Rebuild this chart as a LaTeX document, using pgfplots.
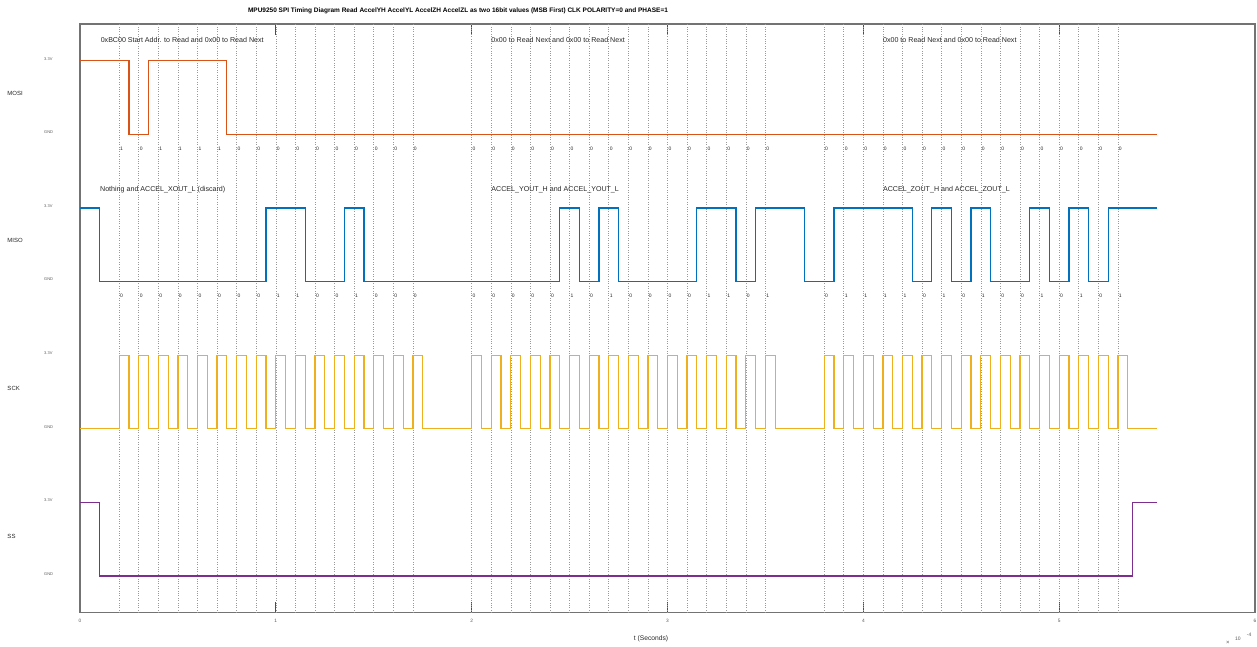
\documentclass[border=0pt]{standalone}
\usepackage{pgfplots}
\usepackage{pgfplotstable}
\pgfplotsset{compat=1.18}
\usepackage{fontspec}
\setmainfont{Liberation Sans}
\definecolor{cMOSI}{RGB}{217,83,25}
\definecolor{cMISO}{RGB}{0,114,189}
\definecolor{cSCK}{RGB}{237,177,32}
\definecolor{cSS}{RGB}{126,47,142}
\definecolor{txt}{RGB}{38,38,38}
\pgfplotstableread{
x y b
0.2 5.81 1
0.3 5.81 0
0.4 5.81 1
0.5 5.81 1
0.6 5.81 1
0.7 5.81 1
0.8 5.81 0
0.9 5.81 0
1.0 5.81 0
1.1 5.81 0
1.2 5.81 0
1.3 5.81 0
1.4 5.81 0
1.5 5.81 0
1.6 5.81 0
1.7 5.81 0
2.0 5.81 0
2.1 5.81 0
2.2 5.81 0
2.3 5.81 0
2.4 5.81 0
2.5 5.81 0
2.6 5.81 0
2.7 5.81 0
2.8 5.81 0
2.9 5.81 0
3.0 5.81 0
3.1 5.81 0
3.2 5.81 0
3.3 5.81 0
3.4 5.81 0
3.5 5.81 0
3.8 5.81 0
3.9 5.81 0
4.0 5.81 0
4.1 5.81 0
4.2 5.81 0
4.3 5.81 0
4.4 5.81 0
4.5 5.81 0
4.6 5.81 0
4.7 5.81 0
4.8 5.81 0
4.9 5.81 0
5.0 5.81 0
5.1 5.81 0
5.2 5.81 0
5.3 5.81 0
}\mosibits
\pgfplotstableread{
x y b
0.2 3.80 0
0.3 3.80 0
0.4 3.80 0
0.5 3.80 0
0.6 3.80 0
0.7 3.80 0
0.8 3.80 0
0.9 3.80 0
1.0 3.80 1
1.1 3.80 1
1.2 3.80 0
1.3 3.80 0
1.4 3.80 1
1.5 3.80 0
1.6 3.80 0
1.7 3.80 0
2.0 3.80 0
2.1 3.80 0
2.2 3.80 0
2.3 3.80 0
2.4 3.80 0
2.5 3.80 1
2.6 3.80 0
2.7 3.80 1
2.8 3.80 0
2.9 3.80 0
3.0 3.80 0
3.1 3.80 0
3.2 3.80 1
3.3 3.80 1
3.4 3.80 0
3.5 3.80 1
3.8 3.80 0
3.9 3.80 1
4.0 3.80 1
4.1 3.80 1
4.2 3.80 1
4.3 3.80 0
4.4 3.80 1
4.5 3.80 0
4.6 3.80 1
4.7 3.80 0
4.8 3.80 0
4.9 3.80 1
5.0 3.80 0
5.1 3.80 1
5.2 3.80 0
5.3 3.80 1
}\misobits
\begin{document}
\begin{tikzpicture}
\useasboundingbox (0,0) rectangle (1257pt,647pt);
\begin{axis}[
  at={(80pt,34.3pt)}, anchor=south west,
  scale only axis, width=1175pt, height=588.7pt,
  xmin=0, xmax=6, ymin=-0.5, ymax=7.5,
  clip=false,
  /pgf/number format/assume math mode=true,
  axis line style={black!55, line width=1.1pt},
  xtick={0,1,2,3,4,5,6},
  xticklabels={0,1,2,3,4,5,6},
  xticklabel style={font=\fontsize{4.8}{5}\selectfont, text=black!65, yshift=-3pt},
  major tick length=11pt,
  tick align=inside,
  xtick pos=both,
  x tick style={black!70, line width=1pt},
  ytick={0,1,2,3,4,5,6,7},
  yticklabels={GND,3.3V,GND,3.3V,GND,3.3V,GND,3.3V},
  y tick style={draw=none},
  yticklabel style={font=\fontsize{4}{4.5}\selectfont, text=black!65, anchor=west, inner sep=0pt, xshift=-36pt, yshift=2pt},
  extra x ticks={0.2,0.3,0.4,0.5,0.6,0.7,0.8,0.9,1.0,1.1,1.2,1.3,1.4,1.5,1.6,1.7,2.0,2.1,2.2,2.3,2.4,2.5,2.6,2.7,2.8,2.9,3.0,3.1,3.2,3.3,3.4,3.5,3.8,3.9,4.0,4.1,4.2,4.3,4.4,4.5,4.6,4.7,4.8,4.9,5.0,5.1,5.2,5.3},
  extra x tick style={grid=major, xticklabel={}, major tick length=0pt},
  extra x tick labels={},
  major grid style={dotted, black!40, line width=0.6pt},
  xlabel={t (Seconds)},
  xlabel style={at={(axis description cs:0.486,-0.0447)}, anchor=center, font=\fontsize{6.7}{7}\selectfont, text=txt},
]
\addplot[const plot, cMOSI, line width=1.2pt] coordinates {(0,7) (0.25,6) (0.35,7) (0.75,6) (5.5,6)};
\addplot[const plot, cMISO, line width=1.2pt] coordinates {(0,5) (0.1,4) (0.95,5) (1.15,4) (1.35,5) (1.45,4) (2.45,5) (2.55,4) (2.65,5) (2.75,4) (3.15,5) (3.35,4) (3.45,5) (3.7,4) (3.85,5) (4.25,4) (4.35,5) (4.45,4) (4.55,5) (4.65,4) (4.85,5) (4.95,4) (5.05,5) (5.15,4) (5.25,5) (5.5,5)};
\addplot[const plot, cSCK, line width=1.2pt] coordinates {(0,2) (0.2,3) (0.25,2) (0.3,3) (0.35,2) (0.4,3) (0.45,2) (0.5,3) (0.55,2) (0.6,3) (0.65,2) (0.7,3) (0.75,2) (0.8,3) (0.85,2) (0.9,3) (0.95,2) (1.0,3) (1.05,2) (1.1,3) (1.15,2) (1.2,3) (1.25,2) (1.3,3) (1.35,2) (1.4,3) (1.45,2) (1.5,3) (1.55,2) (1.6,3) (1.65,2) (1.7,3) (1.75,2)
(2.0,3) (2.05,2) (2.1,3) (2.15,2) (2.2,3) (2.25,2) (2.3,3) (2.35,2) (2.4,3) (2.45,2) (2.5,3) (2.55,2) (2.6,3) (2.65,2) (2.7,3) (2.75,2) (2.8,3) (2.85,2) (2.9,3) (2.95,2) (3.0,3) (3.05,2) (3.1,3) (3.15,2) (3.2,3) (3.25,2) (3.3,3) (3.35,2) (3.4,3) (3.45,2) (3.5,3) (3.55,2)
(3.8,3) (3.85,2) (3.9,3) (3.95,2) (4.0,3) (4.05,2) (4.1,3) (4.15,2) (4.2,3) (4.25,2) (4.3,3) (4.35,2) (4.4,3) (4.45,2) (4.5,3) (4.55,2) (4.6,3) (4.65,2) (4.7,3) (4.75,2) (4.8,3) (4.85,2) (4.9,3) (4.95,2) (5.0,3) (5.05,2) (5.1,3) (5.15,2) (5.2,3) (5.25,2) (5.3,3) (5.35,2) (5.5,2)};
\addplot[const plot, cSS, line width=1.2pt] coordinates {(0,1) (0.1,0) (5.375,1) (5.5,1)};
\addplot[draw=none, nodes near coords, point meta=explicit symbolic,
  every node near coord/.append style={anchor=west, font=\fontsize{5}{5}\selectfont, text=txt, inner sep=0.8pt}]
  table[x=x, y=y, meta=b] {\mosibits};
\addplot[draw=none, nodes near coords, point meta=explicit symbolic,
  every node near coord/.append style={anchor=west, font=\fontsize{5}{5}\selectfont, text=txt, inner sep=0.8pt}]
  table[x=x, y=y, meta=b] {\misobits};
\node[anchor=center, inner sep=0pt, font=\bfseries\fontsize{6.5}{7}\selectfont] at (axis description cs:0.3217,1.022) {MPU9250 SPI Timing Diagram Read AccelYH AccelYL AccelZH AccelZL as two 16bit values (MSB First) CLK POLARITY=0 and PHASE=1};
\node[anchor=west, inner sep=0pt, font=\fontsize{7.1}{8}\selectfont, text=txt] at (axis cs:0.105,7.28) {0xBC00 Start Addr. to Read and 0x00 to Read Next};
\node[anchor=west, inner sep=0pt, font=\fontsize{7.1}{8}\selectfont, text=txt] at (axis cs:2.1,7.28) {0x00 to Read Next and 0x00 to Read Next};
\node[anchor=west, inner sep=0pt, font=\fontsize{7.1}{8}\selectfont, text=txt] at (axis cs:4.1,7.28) {0x00 to Read Next and 0x00 to Read Next};
\node[anchor=west, inner sep=0pt, font=\fontsize{7.1}{8}\selectfont, text=txt] at (axis cs:0.102,5.255) {Nothing and ACCEL\_XOUT\_L (discard)};
\node[anchor=west, inner sep=0pt, font=\fontsize{7.1}{8}\selectfont, text=txt] at (axis cs:2.1,5.255) {ACCEL\_YOUT\_H and ACCEL\_YOUT\_L};
\node[anchor=west, inner sep=0pt, font=\fontsize{7.1}{8}\selectfont, text=txt] at (axis cs:4.1,5.255) {ACCEL\_ZOUT\_H and ACCEL\_ZOUT\_L};
\node[anchor=west, inner sep=0pt, xshift=-72.7pt, font=\fontsize{6}{7}\selectfont, text=txt] at (axis cs:0,6.557) {MOSI};
\node[anchor=west, inner sep=0pt, xshift=-72.7pt, font=\fontsize{6}{7}\selectfont, text=txt] at (axis cs:0,4.56) {MISO};
\node[anchor=west, inner sep=0pt, xshift=-72.7pt, font=\fontsize{6}{7}\selectfont, text=txt] at (axis cs:0,2.55) {SCK};
\node[anchor=west, inner sep=0pt, xshift=-72.7pt, font=\fontsize{6}{7}\selectfont, text=txt] at (axis cs:0,0.543) {SS};
\node[anchor=center, inner sep=0pt, font=\fontsize{6}{6}\selectfont, text=black!65] at (axis description cs:0.977,-0.0515) {×};
\node[anchor=center, inner sep=0pt, font=\fontsize{5}{5}\selectfont, text=black!65] at (axis description cs:0.9855,-0.0447) {10};
\node[anchor=center, inner sep=0pt, font=\fontsize{5}{5}\selectfont, text=black!65] at (axis description cs:0.995,-0.0379) {-4};
\end{axis}
\end{tikzpicture}
\end{document}
